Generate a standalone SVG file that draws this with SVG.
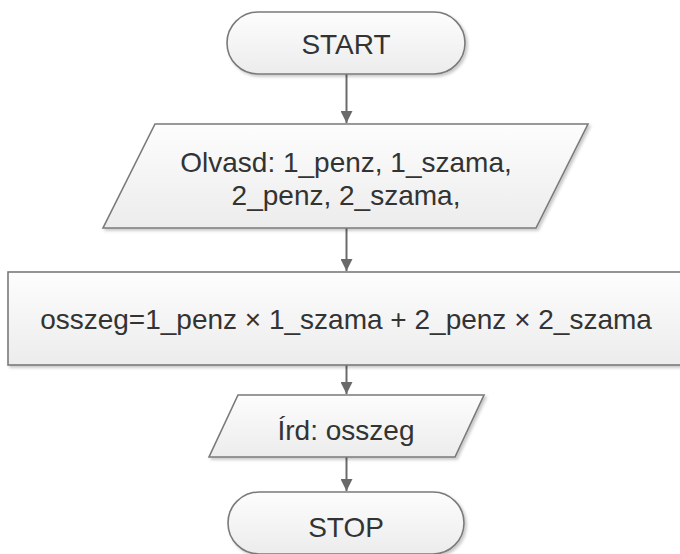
<svg xmlns="http://www.w3.org/2000/svg" width="680" height="554" viewBox="0 0 680 554">
<style>
.shape{fill:url(#g);stroke:#7a7a7a;stroke-width:1.6;filter:url(#sh)}
.t{font-family:"Liberation Sans",Arial,sans-serif;font-size:28px;fill:#333;text-anchor:middle}
.c{stroke:#6a6a6a;stroke-width:2;fill:none;marker-end:url(#ah)}
</style>
<defs>
<linearGradient id="g" x1="0" y1="0" x2="0" y2="1">
<stop offset="0" stop-color="#fdfdfd"/>
<stop offset="1" stop-color="#ececec"/>
</linearGradient>
<filter id="sh" x="-10%" y="-10%" width="120%" height="130%">
<feDropShadow dx="2" dy="2" stdDeviation="1.5" flood-color="#000" flood-opacity="0.22"/>
</filter>
<marker id="ah" markerUnits="userSpaceOnUse" markerWidth="14" markerHeight="12" refX="12" refY="6" orient="auto">
<path d="M0,0 L12,6 L0,12 Z" fill="#6a6a6a"/>
</marker>
</defs>
<rect width="680" height="554" fill="#fff"/>
<g id="connectors">
<line class="c" x1="346.5" y1="74" x2="346.5" y2="123"/>
<line class="c" x1="346.5" y1="228" x2="346.5" y2="271"/>
<line class="c" x1="346.5" y1="365" x2="346.5" y2="394"/>
<line class="c" x1="346.5" y1="457" x2="346.5" y2="491"/>
</g>
<g id="start">
<rect class="shape" x="227" y="12" width="238" height="62" rx="31" ry="31"/>
<text class="t" x="346" y="54">START</text>
</g>
<g id="read">
<polygon class="shape" points="155,124 588,124 536,228 103,228"/>
<text class="t" x="346" y="172">Olvasd: 1_penz, 1_szama,</text>
<text class="t" x="346" y="205">2_penz, 2_szama,</text>
</g>
<g id="calc">
<rect class="shape" x="8" y="272" width="680" height="93"/>
<text class="t" x="346" y="329">osszeg=1_penz × 1_szama + 2_penz × 2_szama</text>
</g>
<g id="write">
<polygon class="shape" points="238,395 484,395 455,457 209,457"/>
<text class="t" x="346" y="440">Írd: osszeg</text>
</g>
<g id="stop">
<rect class="shape" x="228" y="492" width="236" height="62" rx="31" ry="31"/>
<text class="t" x="346" y="537">STOP</text>
</g>
</svg>
